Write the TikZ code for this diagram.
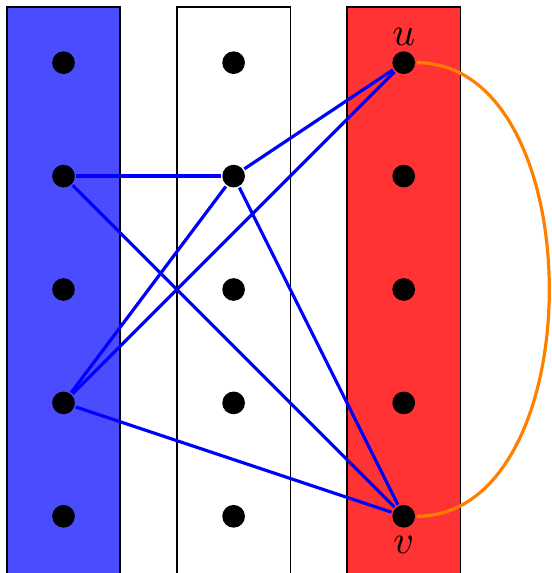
\documentclass[tikz,border=0pt]{standalone}
\usepackage{tikz}

\begin{document}
\begin{tikzpicture}[thick]
        \colorlet{partblue}{blue!70}
        \colorlet{partred}{red!80}
        \tikzset{vertex/.style={circle, fill=black, inner sep=0pt, minimum size=0.2cm},
                 part/.style={draw=black, thin},
                 edge/.style={blue}}

        \useasboundingbox (0,0) rectangle (4.86,5.053);

        \fill[partblue] (0.06,-0.1) rectangle (1.06,4.99);
        \draw[part] (0.06,-0.1) rectangle (1.06,4.99);
        \draw[part] (1.56,-0.1) rectangle (2.56,4.99);
        \fill[partred] (3.06,-0.1) rectangle (4.06,4.99);
        \draw[part] (3.06,-0.1) rectangle (4.06,4.99);

        \foreach \c/\x in {a/0.56, b/2.06, c/3.56}
            \foreach \r in {1,...,5}
                \node[vertex] (\c\r) at (\x,5.5-\r) {};

        \node (ulabel) at ([yshift=0.23cm]c1) {$u$};
        \node (vlabel) at ([yshift=-0.25cm]c5) {$v$};

        \draw[edge] (a2) -- (b2);
        \draw[edge] (a2) -- (c5);
        \draw[edge] (a4) -- (b2);
        \draw[edge] (a4) -- (c1);
        \draw[edge] (a4) -- (c5);
        \draw[edge] (b2) -- (c1);
        \draw[edge] (b2) -- (c5);

        \draw[orange] (c1) to[out=0, in=0] (c5);
    \end{tikzpicture}
\end{document}
